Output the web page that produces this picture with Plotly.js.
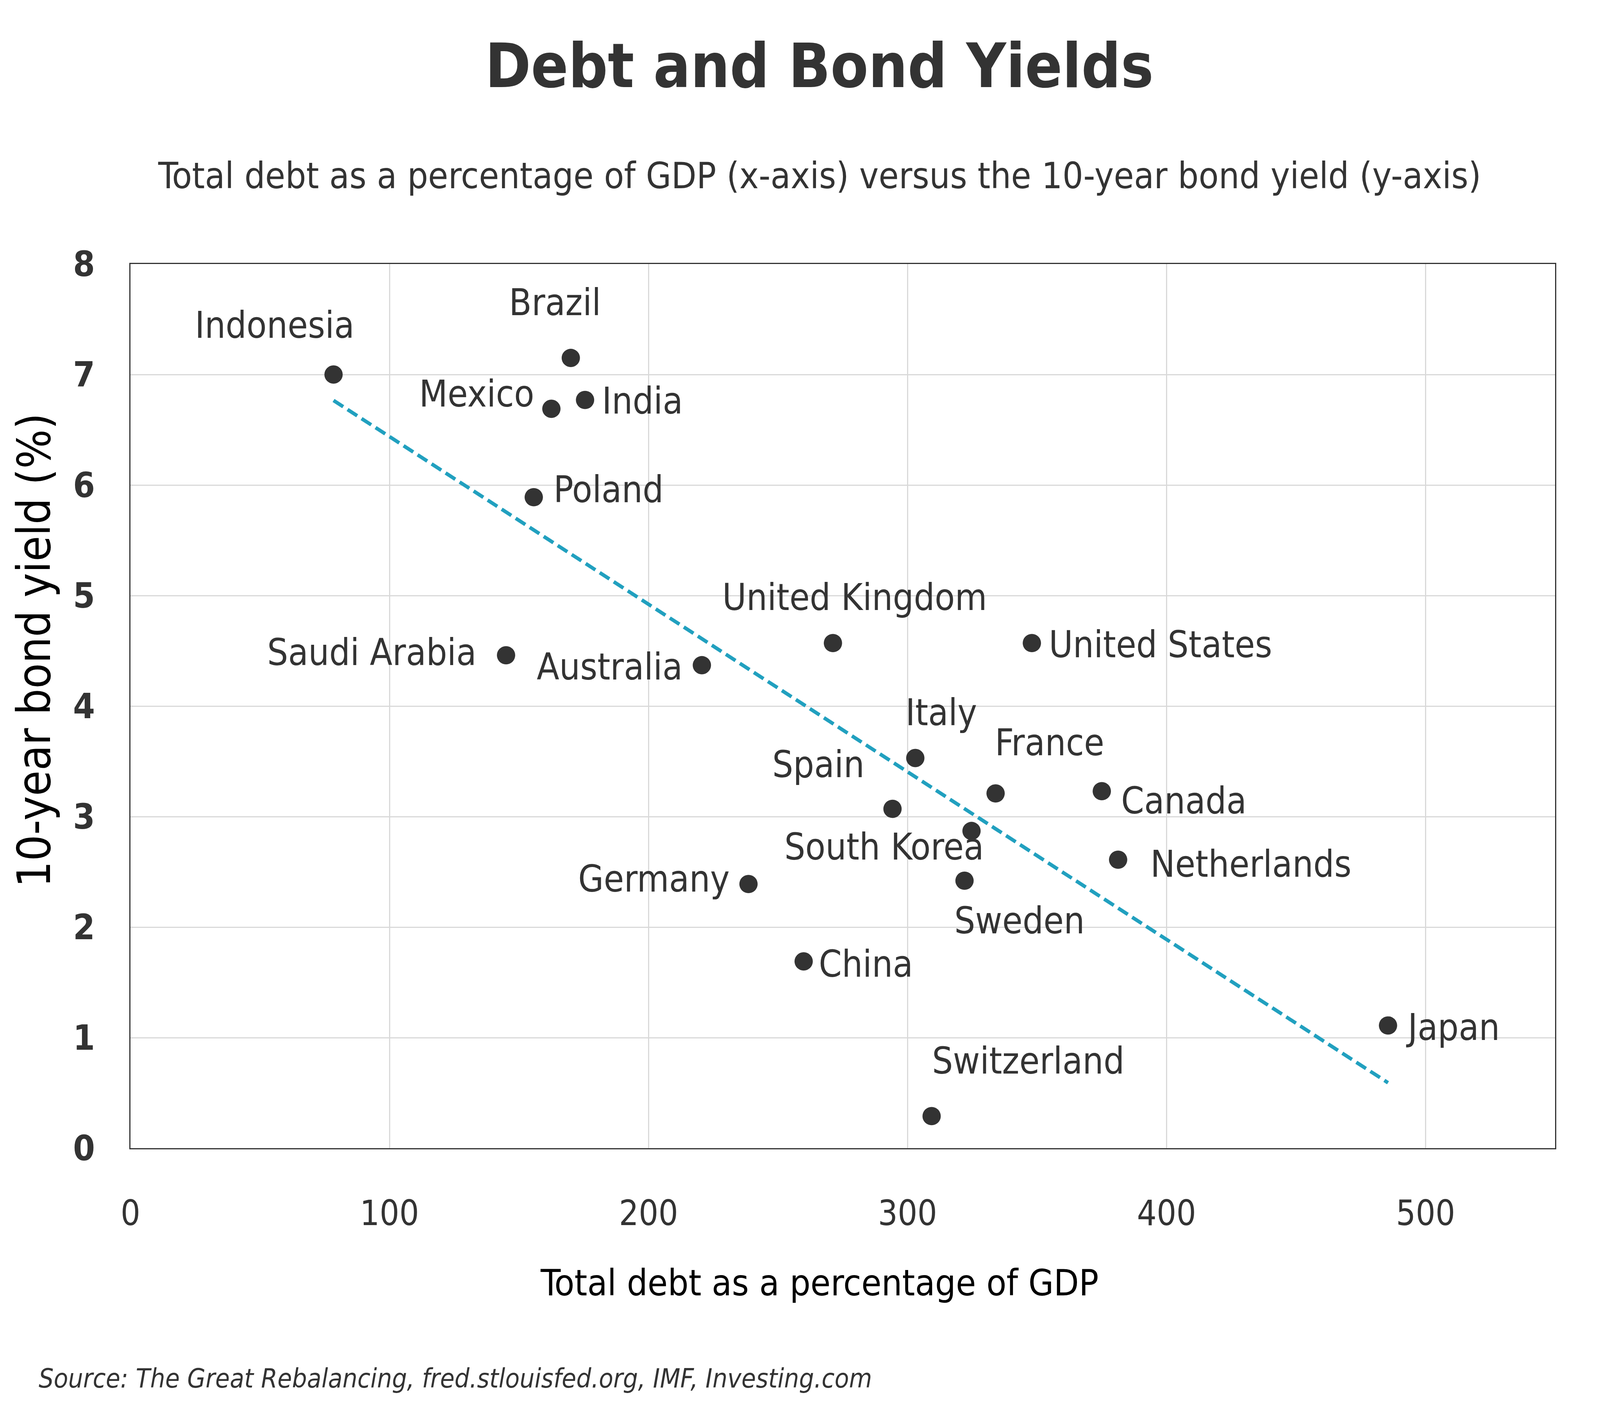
<!DOCTYPE html>
<html>
<head>
<meta charset="utf-8">
<script src="https://cdn.plot.ly/plotly-3.0.1.min.js"></script>
<style>
  html, body { margin: 0; padding: 0; background: #fff; overflow: hidden; }
</style>
</head>
<body>
<div id="graph"></div>
<script>
// values
var countries = ["Indonesia", "Brazil", "Mexico", "India", "Poland", "Saudi Arabia", "Australia",
    "United Kingdom", "United States", "Italy", "Spain", "France", "Canada", "South Korea",
    "Sweden", "Netherlands", "Germany", "China", "Japan", "Switzerland"];
var debt_pct = [78.4, 170, 162.5, 175.5, 155.7, 145, 220.6, 271.2, 348, 303, 294.2, 334, 375,
    324.7, 322, 381.3, 238.6, 259.9, 485.5, 309.3];
var bond_yield = [7.0, 7.15, 6.69, 6.77, 5.89, 4.46, 4.37, 4.57, 4.57, 3.53, 3.07, 3.21, 3.23,
    2.87, 2.42, 2.61, 2.39, 1.69, 1.11, 0.29];
var x_ticks = [0, 100, 200, 300, 400, 500];
var y_ticks = [0, 1, 2, 3, 4, 5, 6, 7, 8];

// where each label sits relative to its dot: [anchor, dx px, dy px (down)]
var label_pos = {
    "Indonesia": ["center", -215, -127],
    "Brazil": ["center", -58, -142],
    "Mexico": ["right", -59, -38],
    "India": ["left", 59, 2],
    "Poland": ["left", 70, -20],
    "Saudi Arabia": ["right", -105, -7],
    "Australia": ["right", -68, 4],
    "United Kingdom": ["center", 80, -117],
    "United States": ["left", 59, 4],
    "Italy": ["center", 94, -117],
    "Spain": ["center", -271, -114],
    "France": ["center", 197, -130],
    "Canada": ["left", 68, 25],
    "South Korea": ["right", 48, 41],
    "Sweden": ["center", 201, 102],
    "Netherlands": ["left", 115, 11],
    "Germany": ["right", -66, -13],
    "China": ["left", 52, 7],
    "Japan": ["left", 62, 5],
    "Switzerland": ["center", 354, -141]
};

// layout measured on a 5848 x 3654 grid, stretched to fill the window
var W = 5848, H = 3654;
var sx = window.innerWidth / W;
var sy = window.innerHeight / H;
function hx(v) { return v * sx; }   // horizontal lengths and font sizes
function vy(v) { return v * sy; }   // vertical lengths

var M = {l: 477, r: 164, t: 676, b: 714};
var FONT = "DejaVu Sans Condensed, DejaVu Sans, sans-serif";
var DARK = "#333333";

function paperX(p) { return (p - M.l) / (W - M.l - M.r); }
function paperY(p) { return (H - M.b - p) / (H - M.t - M.b); }

// least squares trend line through the points
function trend(xs, ys) {
    var n = xs.length, mx = 0, my = 0;
    for (var i = 0; i < n; i++) { mx += xs[i]; my += ys[i]; }
    mx /= n; my /= n;
    var sxy = 0, sxx = 0;
    for (var i = 0; i < n; i++) {
        sxy += (xs[i] - mx) * (ys[i] - my);
        sxx += (xs[i] - mx) * (xs[i] - mx);
    }
    var slope = sxy / sxx, icept = my - slope * mx;
    var x0 = Math.min.apply(null, xs), x1 = Math.max.apply(null, xs);
    return {x: [x0, x1], y: [icept + slope * x0, icept + slope * x1]};
}

var fit = trend(debt_pct, bond_yield);
var mk = 56 * Math.sqrt(sx * sy);

var plot_data = [
    {
        type: "scatter",
        mode: "lines",
        x: fit.x,
        y: fit.y,
        line: {color: "#21a0bf", width: 11 * Math.sqrt(sx * sy), dash: hx(42) + "px," + hx(19) + "px"},
        hoverinfo: "skip",
        showlegend: false
    },
    {
        type: "scatter",
        mode: "markers",
        x: debt_pct,
        y: bond_yield,
        text: countries,
        marker: {color: DARK, size: mk},
        showlegend: false
    }
];

var annotations = countries.map(function (name, i) {
    var p = label_pos[name];
    return {
        x: debt_pct[i], y: bond_yield[i], xref: "x", yref: "y",
        text: name, showarrow: false,
        xanchor: p[0], yanchor: "middle",
        xshift: hx(p[1]), yshift: -vy(p[2]),
        font: {family: FONT, size: hx(134), color: DARK}
    };
});

annotations.push({
    xref: "paper", yref: "paper", x: paperX(2995), y: paperY(450),
    xanchor: "center", yanchor: "middle", showarrow: false,
    text: "Total debt as a percentage of GDP (x-axis) versus the 10-year bond yield (y-axis)",
    font: {family: FONT, size: hx(133), color: DARK}
});
annotations.push({
    xref: "paper", yref: "paper", x: paperX(2996), y: paperY(3285),
    xanchor: "center", yanchor: "middle", showarrow: false,
    text: "Total debt as a percentage of GDP",
    font: {family: FONT, size: hx(133), color: "#000000"}
});
annotations.push({
    xref: "paper", yref: "paper", x: paperX(125), y: paperY(1665),
    xanchor: "center", yanchor: "middle", showarrow: false, textangle: -90,
    text: "10-year bond yield (%)",
    font: {family: FONT, size: 118, color: "#000000"}
});
annotations.push({
    xref: "paper", yref: "paper", x: paperX(139), y: paperY(3530),
    xanchor: "left", yanchor: "middle", showarrow: false,
    text: "<i>Source: The Great Rebalancing, fred.stlouisfed.org, IMF, Investing.com</i>",
    font: {family: FONT, size: hx(96), color: DARK}
});

var layout = {
    width: window.innerWidth,
    height: window.innerHeight,
    paper_bgcolor: "#ffffff",
    plot_bgcolor: "#ffffff",
    margin: {l: hx(M.l), r: hx(M.r), t: vy(M.t), b: vy(M.b), pad: 0},
    showlegend: false,
    font: {family: FONT, color: DARK},
    title: {
        text: "<b>Debt and Bond Yields</b>",
        xref: "paper", x: paperX(2995), xanchor: "center",
        yref: "container", y: 1 - 168 / H, yanchor: "middle",
        font: {family: FONT, size: hx(224), color: DARK}
    },
    xaxis: {
        range: [0, 550],
        tickvals: x_ticks,
        ticktext: x_ticks.map(String),
        showgrid: true,
        gridcolor: "#d9d9d9",
        gridwidth: 3,
        zeroline: false,
        showline: true,
        linecolor: "#333333",
        linewidth: 3,
        mirror: true,
        ticks: "",
        ticklabelstandoff: vy(88),
        tickfont: {family: FONT, size: hx(126), color: DARK}
    },
    yaxis: {
        range: [0, 8],
        tickvals: y_ticks,
        ticktext: y_ticks.map(function (v) { return "<b>" + v + "</b>"; }),
        showgrid: true,
        gridcolor: "#d9d9d9",
        gridwidth: 3,
        zeroline: false,
        showline: true,
        linecolor: "#333333",
        linewidth: 3,
        mirror: true,
        ticks: "outside",
        ticklen: hx(100),
        tickcolor: "rgba(0,0,0,0)",
        tickfont: {family: FONT, size: hx(128), color: DARK}
    },
    annotations: annotations
};

Plotly.newPlot("graph", plot_data, layout, {staticPlot: true});
</script>
</body>
</html>
